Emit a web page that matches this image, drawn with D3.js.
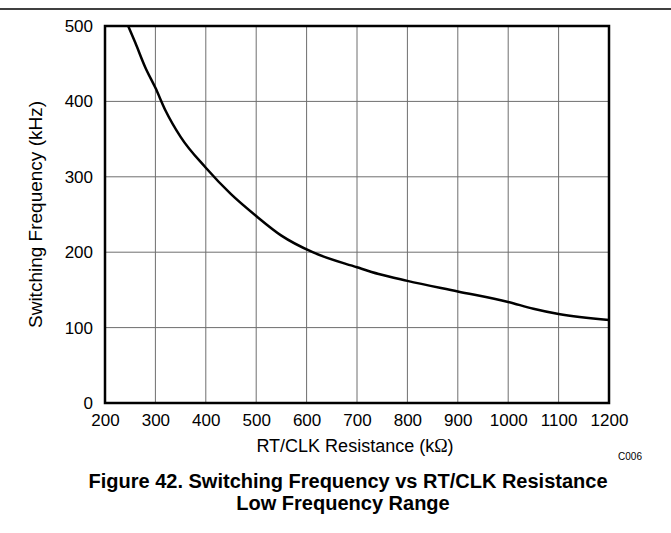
<!DOCTYPE html>
<html>
<head>
<meta charset="utf-8">
<script src="https://cdn.jsdelivr.net/npm/d3@7"></script>
<style>
  body { margin: 0; background: #fff; }
  svg text { font-family: "Liberation Sans", Arial, sans-serif; fill: #000; }
</style>
</head>
<body>
<svg id="chart" width="671" height="533"></svg>
<script>
// ---------------- data ----------------
var resistance = [246, 260, 280, 300, 320, 350, 400, 450, 500, 550, 612, 700, 743, 800, 900, 1000, 1050, 1100, 1200];
var frequency  = [500, 478, 445, 418, 388, 353, 312, 277, 248, 222, 200, 180, 171, 162, 148, 134, 125, 118, 110];
var xTicks = [200, 300, 400, 500, 600, 700, 800, 900, 1000, 1100, 1200];
var yTicks = [0, 100, 200, 300, 400, 500];

// ---------------- layout ----------------
var plotLeft = 105, plotRight = 609, plotTop = 26, plotBottom = 403;

var svg = d3.select('#chart');

// top rule
svg.append('line')
    .attr('x1', 0).attr('x2', 671)
    .attr('y1', 9).attr('y2', 9)
    .attr('stroke', '#000')
    .attr('stroke-width', 1.5);

var xScale = d3.scaleLinear().domain([200, 1200]).range([plotLeft, plotRight]);
var yScale = d3.scaleLinear().domain([0, 500]).range([plotBottom, plotTop]);

// grid
svg.append('g')
    .selectAll('line')
    .data(xTicks)
    .enter()
    .append('line')
        .attr('x1', d => xScale(d)).attr('x2', d => xScale(d))
        .attr('y1', plotTop).attr('y2', plotBottom)
        .attr('stroke', '#6e6e6e')
        .attr('stroke-width', 1);

svg.append('g')
    .selectAll('line')
    .data(yTicks)
    .enter()
    .append('line')
        .attr('x1', plotLeft).attr('x2', plotRight)
        .attr('y1', d => yScale(d)).attr('y2', d => yScale(d))
        .attr('stroke', '#6e6e6e')
        .attr('stroke-width', 1);

// axes (labels only)
var xAxis = d3.axisBottom(xScale).tickValues(xTicks).tickFormat(d3.format('d')).tickSize(0).tickPadding(11);
svg.append('g')
    .attr('transform', 'translate(0,' + plotBottom + ')')
    .call(xAxis)
    .call(g => g.select('.domain').remove())
    .selectAll('text')
        .style('font-size', '17px')
        .attr('fill', '#000');

var yAxis = d3.axisLeft(yScale).tickValues(yTicks).tickFormat(d3.format('d')).tickSize(0).tickPadding(12);
svg.append('g')
    .attr('transform', 'translate(' + plotLeft + ',0)')
    .call(yAxis)
    .call(g => g.select('.domain').remove())
    .selectAll('text')
        .style('font-size', '17px')
        .attr('fill', '#000');

// curve
svg.append('clipPath').attr('id', 'plotClip')
    .append('rect')
        .attr('x', plotLeft).attr('y', plotTop)
        .attr('width', plotRight - plotLeft).attr('height', plotBottom - plotTop);

var pts = resistance.map((r, i) => [r, frequency[i]]);
var line = d3.line()
    .x(d => xScale(d[0]))
    .y(d => yScale(d[1]))
    .curve(d3.curveMonotoneX);

svg.append('path')
    .datum(pts)
    .attr('clip-path', 'url(#plotClip)')
    .attr('d', line)
    .attr('fill', 'none')
    .attr('stroke', '#000')
    .attr('stroke-width', 2.5);

// frame
svg.append('rect')
    .attr('x', plotLeft).attr('y', plotTop)
    .attr('width', plotRight - plotLeft).attr('height', plotBottom - plotTop)
    .attr('fill', 'none')
    .attr('stroke', '#000')
    .attr('stroke-width', 2.5);

// axis titles
var xt = svg.append('text')
    .attr('x', 355)
    .attr('y', 452)
    .attr('text-anchor', 'middle')
    .style('font-size', '18px');
xt.append('tspan').text('RT/CLK Resistance (k');
xt.append('tspan').style('font-family', '"Liberation Serif", "Times New Roman", serif').text('Ω');
xt.append('tspan').text(')');

svg.append('text')
    .attr('transform', 'translate(42,' + ((plotTop + plotBottom) / 2) + ') rotate(-90)')
    .attr('text-anchor', 'middle')
    .style('font-size', '19px')
    .text('Switching Frequency (kHz)');

svg.append('text')
    .attr('x', 630)
    .attr('y', 460)
    .attr('text-anchor', 'middle')
    .style('font-size', '10px')
    .text('C006');

// caption
svg.append('text')
    .attr('x', 348)
    .attr('y', 488)
    .attr('text-anchor', 'middle')
    .style('font-size', '20px')
    .style('font-weight', 'bold')
    .text('Figure 42. Switching Frequency vs RT/CLK Resistance');

svg.append('text')
    .attr('x', 343)
    .attr('y', 510)
    .attr('text-anchor', 'middle')
    .style('font-size', '20px')
    .style('font-weight', 'bold')
    .text('Low Frequency Range');
</script>
</body>
</html>
